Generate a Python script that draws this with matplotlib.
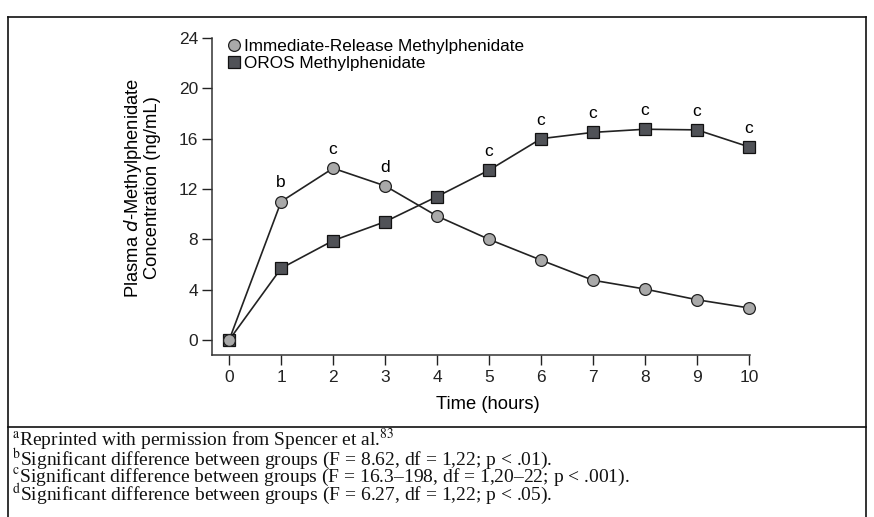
import numpy as np
import matplotlib.pyplot as plt
from matplotlib.lines import Line2D

# ---------------------------------------------------------
# Data
# ---------------------------------------------------------
hours = [0, 1, 2, 3, 4, 5, 6, 7, 8, 9, 10]
ir_conc = [0, 11.0, 13.65, 12.25, 9.85, 8.0, 6.35, 4.75, 4.05, 3.2, 2.55]
oros_conc = [0, 5.7, 7.9, 9.4, 11.4, 13.5, 16.0, 16.5, 16.75, 16.7, 15.35]
ir_marks = {1: "b", 2: "c", 3: "d"}
oros_marks = {5: "c", 6: "c", 7: "c", 8: "c", 9: "c", 10: "c"}
yticks = [0, 4, 8, 12, 16, 20, 24]
footnotes = [
    ("a", "Reprinted with permission from Spencer et al.", "83"),
    ("b", "Significant difference between groups (F = 8.62, df = 1,22; p < .01).", ""),
    ("c", "Significant difference between groups (F = 16.3\u2013198, df = 1,20\u201322; p < .001).", ""),
    ("d", "Significant difference between groups (F = 6.27, df = 1,22; p < .05).", ""),
]

plt.rcParams['font.family'] = ['Liberation Sans', 'DejaVu Sans']

fig = plt.figure(figsize=(8.74, 5.17), dpi=100)
W, H = 874, 517
ax = fig.add_axes([212 / W, 1 - 355 / H, (750 - 212) / W, (355 - 38) / H])

ax.plot(hours, ir_conc, color='#222222', lw=1.2, zorder=2)
ax.plot(hours, oros_conc, color='#222222', lw=1.2, zorder=2)
ax.plot(hours, oros_conc, ls='none', marker='s', ms=8.5, mfc='#505257',
        mec='#111111', mew=0.9, zorder=3, clip_on=False, label='OROS Methylphenidate')
ax.plot(hours, ir_conc, ls='none', marker='o', ms=8.5, mfc='#a9a9a9',
        mec='#222222', mew=0.9, zorder=4, clip_on=False,
        label='Immediate-Release Methylphenidate')

for x, s in ir_marks.items():
    ax.annotate(s, (x, ir_conc[x]), xytext=(0, 8), textcoords='offset points',
                ha='center', va='bottom', fontsize=12.5)
for x, s in oros_marks.items():
    ax.annotate(s, (x, oros_conc[x]), xytext=(0, 8), textcoords='offset points',
                ha='center', va='bottom', fontsize=12.5)

ax.set_xlim(-0.33, 10.02)
ax.set_ylim(-1.19, 24)
ax.set_xticks(hours)
ax.set_yticks(yticks)
ax.tick_params(direction='out', length=7, width=1, labelsize=12.5, colors='#222222')
ax.tick_params(axis='x', pad=4)
ax.tick_params(axis='y', pad=3)
for side in ['top', 'right']:
    ax.spines[side].set_visible(False)
for side in ['left', 'bottom']:
    ax.spines[side].set_linewidth(1.1)
    ax.spines[side].set_color('#333333')

ax.set_xlabel('Time (hours)', fontsize=13.2, labelpad=8)
ax.xaxis.label.set_x(0.513)
ax.set_ylabel('Plasma $\\mathit{d}$-Methylphenidate\nConcentration (ng/mL)',
              fontsize=13.2, labelpad=13, linespacing=1.0)
ax.yaxis.label.set_y(0.527)

handles, labels = ax.get_legend_handles_labels()
ax.legend(handles[::-1], labels[::-1], loc='upper left', bbox_to_anchor=(0.012, 1.018),
          frameon=False, fontsize=12.3, handletextpad=0.1, handlelength=1.0,
          labelspacing=0.1, borderaxespad=0)

# ---------------------------------------------------------
# Box and footnotes
# ---------------------------------------------------------
box = dict(color='#111111', lw=1.2, transform=fig.transFigure)
fig.add_artist(Line2D([8 / W, 8 / W], [0, 1 - 17 / H], **box))
fig.add_artist(Line2D([866 / W, 866 / W], [0, 1 - 17 / H], **box))
fig.add_artist(Line2D([8 / W, 866 / W], [1 - 17 / H, 1 - 17 / H], **box))
fig.add_artist(Line2D([8 / W, 866 / W], [1 - 427 / H, 1 - 427 / H], **box))

rows = []
for sup, txt, end in footnotes:
    s = '$^{\\mathrm{%s}}$%s' % (sup, txt)
    if end:
        s += '$^{\\mathrm{%s}}$' % end
    rows.append(s)
fig.text(12 / W, 1 - 427 / H, '\n'.join(rows), fontsize=14, family='Liberation Serif',
         va='top', ha='left', color='#111111', math_fontfamily='stix',
         linespacing=0.655)

fig.savefig('out.png', dpi=100)
